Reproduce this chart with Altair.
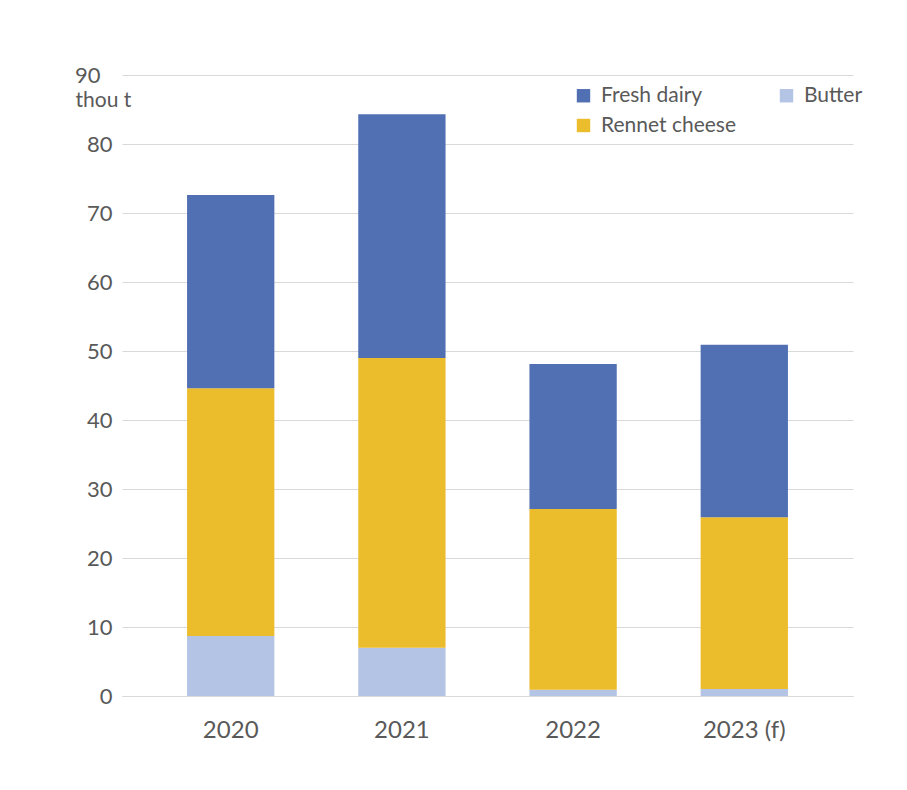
import altair as alt
import pandas as pd

years = ["2020", "2021", "2022", "2023 (f)"]
butter = [8.7, 7.0, 0.9, 1.0]
rennet = [35.9, 42.0, 26.2, 24.9]
fresh = [28.0, 35.3, 21.0, 25.0]

series = ["Fresh dairy", "Rennet cheese", "Butter"]
colors = ["#5170B3", "#EBBD2D", "#B4C4E4"]
stack_rank = {"Butter": 0, "Rennet cheese": 1, "Fresh dairy": 2}

rows = []
for i, y in enumerate(years):
    for name, vals in (("Butter", butter), ("Rennet cheese", rennet), ("Fresh dairy", fresh)):
        rows.append({"year": y, "series": name, "value": vals[i], "rank": stack_rank[name]})
df = pd.DataFrame(rows)

FONT = "Lato"
GREY = "#595959"

chart = alt.Chart(df).mark_bar().encode(
    x=alt.X("year:N", sort=years, title=None,
            scale=alt.Scale(paddingInner=0.49, paddingOuter=0.38),
            axis=alt.Axis(labelAngle=0, labelFontSize=24, labelColor=GREY, labelFont=FONT,
                          labelPadding=22, ticks=False, domain=True, domainColor="#D9D9D9",
                          grid=False)),
    y=alt.Y("value:Q", stack="zero", title="thou t",
            scale=alt.Scale(domain=[0, 90], nice=False),
            axis=alt.Axis(values=list(range(0, 91, 10)), labelFontSize=22, labelColor=GREY,
                          labelFont=FONT,
                          labelPadding={"condition": {"test": "datum.value == 90", "value": 22},
                                        "value": 10},
                          ticks=False, domain=False,
                          gridColor="#D9D9D9", gridWidth=1.2,
                          titleAngle=0, titleAlign="left", titleBaseline="middle",
                          titleX=-47, titleY=25, titleFontSize=21, titleFont=FONT,
                          titleColor=GREY, titleFontWeight="normal")),
    color=alt.Color("series:N", scale=alt.Scale(domain=series, range=colors),
                    legend=alt.Legend(title=None, orient="none", legendX=451, legendY=10,
                                      columns=2, columnPadding=39, rowPadding=8,
                                      symbolType="square", symbolSize=180, symbolStrokeWidth=0,
                                      labelFontSize=21, labelFont=FONT, labelColor=GREY,
                                      labelOffset=7)),
    order=alt.Order("rank:Q", sort="ascending"),
).properties(
    width=731, height=621,
    autosize=alt.AutoSizeParams(type="none"),
    padding={"left": 122, "top": 75, "right": 54, "bottom": 94},
    background="white",
).configure_view(stroke=None)

chart.save("out.html", embed_options={"renderer": "svg", "actions": False})
